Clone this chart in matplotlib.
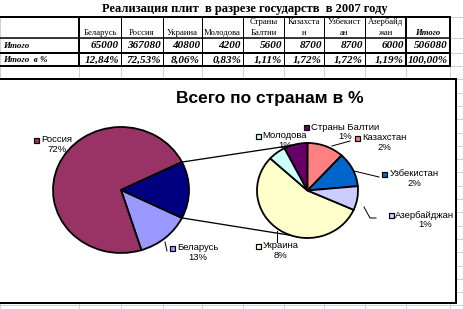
import matplotlib
matplotlib.use("Agg")
import matplotlib.pyplot as plt
from matplotlib.patches import Rectangle
import numpy as np

plt.rcParams['font.family'] = ['Liberation Sans', 'DejaVu Sans']

# Данные
countries = ['Беларусь', 'Россия', 'Украина', 'Молодова', 'Страны Балтии',
             'Казахстан', 'Узбекистан', 'Азербайджан']
headers = ['Беларусь', 'Россия', 'Украина', 'Молодова', 'Страны\nБалтии',
           'Казахста\nн', 'Узбекист\nан', 'Азербайд\nжан']
sales = [65000, 367080, 40800, 4200, 5600, 8700, 8700, 6000]
pie_pct_labels = ['13%', '72%', '8%', '1%', '1%', '2%', '2%', '1%']
colors = ['#9999FF', '#993366', '#FFFFCC', '#CCFFFF', '#660066',
          '#FF8080', '#0066CC', '#CCCCFF']
other_color = '#000080'

W, H = 464, 309
fig = plt.figure(figsize=(W / 100, H / 100), dpi=100)
ax = fig.add_axes([0, 0, 1, 1])
ax.set_xlim(0, W)
ax.set_ylim(H, 0)
ax.axis('off')

px = 0.72  # 1 пиксель в пунктах

# Сетка Excel
grid = '#CBD3DF'
cols = [0, 79, 121, 163, 202, 243, 284, 324, 365, 406, 450, 463]
rows = [17, 38, 53, 66] + [66 + 13.3 * i for i in range(1, 19)]
for x in cols:
    ax.plot([x, x], [17, H], color=grid, lw=px, zorder=0)
for y in rows:
    ax.plot([0, W], [y, y], color=grid, lw=px, zorder=0)

# Таблица
total = sum(sales)
ax.text(245, 9, 'Реализация плит  в разрезе государств  в 2007 году',
        family='Liberation Serif', weight='bold', fontsize=9.0,
        ha='center', va='center', zorder=3)
for y, lw in [(17, 2), (38, 1.5), (53, 2), (66, 2)]:
    ax.plot([0, 450], [y, y], color='black', lw=lw * px, zorder=3)
for x in cols[1:-1]:
    lw = 2 if x in (79, 406, 450) else 1
    ax.plot([x, x], [17, 66], color='black', lw=lw * px, zorder=3)

serif = dict(family='Liberation Serif', zorder=4)
for i, h in enumerate(headers + ['Итого']):
    xc = (cols[i + 1] + cols[i + 2]) / 2
    style = 'italic' if h == 'Итого' else 'normal'
    weight = 'bold' if h == 'Итого' else 'normal'
    ax.text(xc, 37, h, fontsize=6.2, ha='center', va='bottom',
            linespacing=1.45, style=style, weight=weight, **serif)

ax.text(3, 45.5, 'Итого', fontsize=6.5, weight='bold', style='italic',
        va='center', **serif)
ax.text(3, 59.5, 'Итого  в %', fontsize=6.5, weight='bold', style='italic',
        va='center', **serif)
for i, v in enumerate(sales + [total]):
    xr = cols[i + 2] - 2
    ax.text(xr, 46, f'{v}', fontsize=8, weight='bold', style='italic',
            ha='right', va='center', **serif)
    pct = f'{v * 100 / total:.2f}%'.replace('.', ',')
    ax.text(xr, 60, pct, fontsize=8, weight='bold', style='italic',
            ha='right', va='center', **serif)

# Область диаграммы
ax.add_patch(Rectangle((-3, 79), 459, 224, facecolor='white',
                       edgecolor='black', lw=2 * px, zorder=1))
ax.text(270, 98, 'Всего по странам в %', fontsize=12.5, weight='bold',
        ha='center', va='center', zorder=3)


def pie_axes(x0, y0, x1, y1):
    a = fig.add_axes([x0 / W, 1 - y1 / H, (x1 - x0) / W, (y1 - y0) / H])
    a.patch.set_alpha(0)
    return a


wp = dict(edgecolor='black', linewidth=1.3)

# Основной круг
other = sum(sales[2:])
ax1 = pie_axes(53, 127, 189, 253)
w1, _ = ax1.pie(sales[:2] + [other], colors=colors[:2] + [other_color],
                counterclock=False, startangle=-180 * other / total,
                wedgeprops=wp, frame=True)
ax1.set_xlim(-1, 1)
ax1.set_ylim(-1, 1)
ax1.set_aspect('auto')
ax1.axis('off')

# Вторичный круг
ax2 = pie_axes(257, 143, 358, 238)
w2, _ = ax2.pie(sales[2:], colors=colors[2:], counterclock=False,
                startangle=-24, wedgeprops=wp, frame=True)
ax2.set_xlim(-1, 1)
ax2.set_ylim(-1, 1)
ax2.set_aspect('auto')
ax2.axis('off')

# Соединительные линии
inv = ax.transData.inverted()
ow = w1[2]
for th, target in [(ow.theta2, (0, 1)), (ow.theta1, (0, -1))]:
    p = inv.transform(ax1.transData.transform((np.cos(np.deg2rad(th)),
                                               np.sin(np.deg2rad(th)))))
    q = inv.transform(ax2.transData.transform(target))
    ax.plot([p[0], q[0]], [p[1], q[1]], color='black', lw=1.3 * px, zorder=2)

# Подписи
label_pos = {
    'Россия': (57, 140, 37),
    'Беларусь': (198, 248, 173),
    'Молодова': (285, 136, 259),
    'Страны Балтии': (345, 127, 307),
    'Казахстан': (384, 138, 358),
    'Узбекистан': (414, 174, 385),
    'Азербайджан': (425, 215, 392),
    'Украина': (281, 246, 259),
}
for name, pct, c in zip(countries, pie_pct_labels, colors):
    xc, y, xm = label_pos[name]
    ax.text(xc, y, name, fontsize=6.8, ha='center', va='center', zorder=5)
    ax.text(xc, y + 9.5, pct, fontsize=6.8, ha='center', va='center', zorder=5)
    ax.add_patch(Rectangle((xm - 2.5, y - 2.5), 5, 5, facecolor=c,
                           edgecolor='black', lw=1.2 * px, zorder=5))

leaders = [
    [(165, 242), (167, 251)],
    [(332, 146), (350, 141)],
    [(354, 171), (379, 177)],
    [(364, 207), (370, 218), (376, 218)],
    [(277, 231), (277, 242)],
]
for pts in leaders:
    xs, ys = zip(*pts)
    ax.plot(xs, ys, color='black', lw=1 * px, zorder=4)

fig.savefig('out.png', dpi=100)
